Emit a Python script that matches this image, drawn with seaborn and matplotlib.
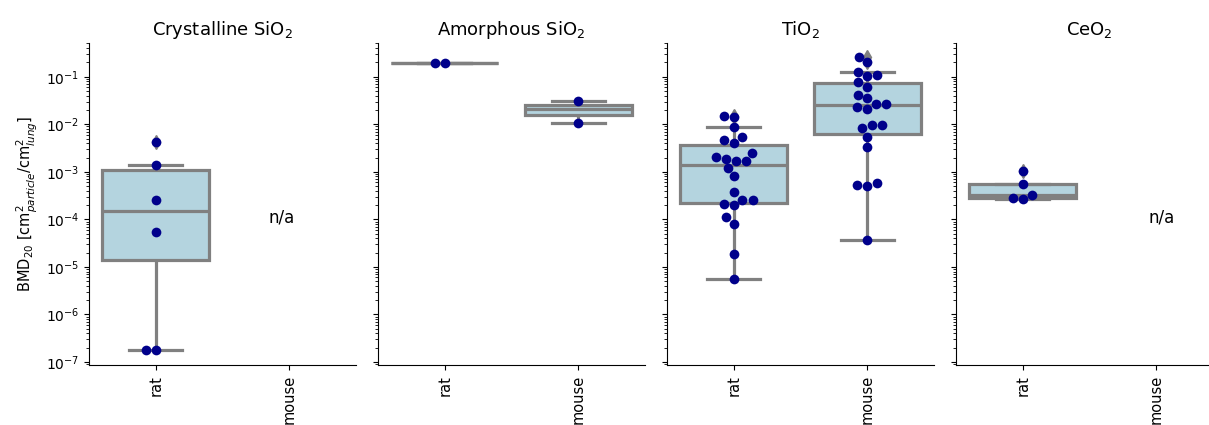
import numpy as np
import pandas as pd
import matplotlib
matplotlib.use('Agg')
from matplotlib import pyplot as plt
from matplotlib.ticker import LogLocator
import seaborn as sns

# panel titles and x categories
materials = ['Crystalline SiO$_2$', 'Amorphous SiO$_2$', 'TiO$_2$', 'CeO$_2$']
species = ['rat', 'mouse']

# BMD20 values [cm2 particle / cm2 lung]
cryst_sio2_rat = [1.75e-7, 1.78e-7, 5.5e-5, 2.5e-4, 1.4e-3, 4.2e-3]
amorph_sio2_rat = [0.197, 0.197]
amorph_sio2_mouse = [0.0106, 0.031]
tio2_rat = [5.5e-6, 1.9e-5, 8.1e-5, 1.1e-4, 2.0e-4, 2.1e-4, 2.55e-4, 2.6e-4,
            3.8e-4, 8.0e-4, 1.19e-3, 1.65e-3, 1.68e-3, 1.88e-3, 2.08e-3, 2.45e-3,
            4.1e-3, 4.6e-3, 5.3e-3, 8.75e-3, 0.0145, 0.0150]
tio2_mouse = [3.7e-5, 5.0e-4, 5.3e-4, 5.9e-4, 3.3e-3, 5.5e-3, 8.2e-3, 9.5e-3,
              9.7e-3, 0.0206, 0.0234, 0.0266, 0.027, 0.035, 0.0412, 0.062,
              0.077, 0.103, 0.108, 0.124, 0.2, 0.263]
ceo2_rat = [2.64e-4, 2.77e-4, 3.25e-4, 5.6e-4, 1.05e-3]

groups = [
    (materials[0], 'rat', cryst_sio2_rat),
    (materials[1], 'rat', amorph_sio2_rat),
    (materials[1], 'mouse', amorph_sio2_mouse),
    (materials[2], 'rat', tio2_rat),
    (materials[2], 'mouse', tio2_mouse),
    (materials[3], 'rat', ceo2_rat),
]
rows = []
for mat, sp, vals in groups:
    for v in vals:
        rows.append({'material': mat, 'species': sp, 'bmd': v})
df = pd.DataFrame(rows)

fig = plt.figure(figsize=(12.09, 4.25), dpi=100)
lefts = [0.0736, 0.3127, 0.5517, 0.7907]
na_x = {materials[0]: 0.94, materials[3]: 1.04}
flier_style = dict(marker='d', markerfacecolor='grey', markeredgecolor='grey', markersize=7)

for i, mat in enumerate(materials):
    ax = fig.add_axes([lefts[i], 0.1412, 0.2208, 0.7576])
    sub = df[df['material'] == mat]
    # box stats in linear space, then switch the axis to log
    sns.boxplot(data=sub, x='species', y='bmd', order=species, color='lightblue',
                linecolor='grey', linewidth=2.3, flierprops=flier_style, ax=ax)
    ax.set_yscale('log')
    sns.swarmplot(data=sub, x='species', y='bmd', order=species, color='darkblue',
                  size=7, linewidth=0, ax=ax)
    ax.set_ylim(8.65e-8, 0.512)
    ax.set_xlim(-0.5, 1.5)
    ax.yaxis.set_major_locator(LogLocator(base=10, numticks=20))
    ax.yaxis.set_minor_locator(LogLocator(base=10, subs=np.arange(2, 10), numticks=20))
    ax.set_title(mat, fontsize=13)
    ax.set_xlabel('')
    ax.tick_params(axis='x', labelrotation=90, labelsize=10.5)
    ax.tick_params(axis='y', labelsize=10)
    if i == 0:
        ax.set_ylabel('BMD$_{20}$ [cm$^2_{particle}$/cm$^2_{lung}$]', fontsize=10.5)
    else:
        ax.set_ylabel('')
        ax.tick_params(axis='y', which='both', labelleft=False)
    if mat in na_x:
        ax.text(na_x[mat], 1.1e-4, 'n/a', ha='center', va='center', fontsize=12)
    sns.despine(ax=ax)

plt.savefig('out.png', dpi=100)
